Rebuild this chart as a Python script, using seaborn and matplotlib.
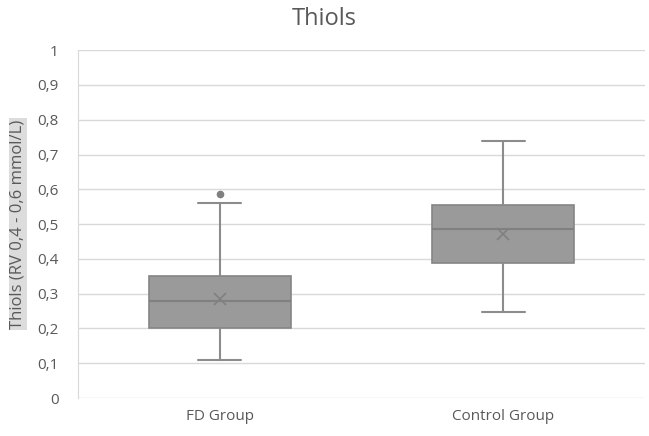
import matplotlib
matplotlib.use("Agg")
import matplotlib.pyplot as plt
import seaborn as sns

# ── Box statistics ────────────────────────────────────────────────────────────
groups   = ["FD Group", "Control Group"]
q1       = [0.201, 0.388]
median   = [0.279, 0.486]
q3       = [0.351, 0.555]
mean     = [0.285, 0.471]
whis_lo  = [0.110, 0.247]
whis_hi  = [0.560, 0.739]
outliers = [[0.586], []]

y_ticks  = [i / 10 for i in range(11)]
y_labels = ["0", "0,1", "0,2", "0,3", "0,4", "0,5", "0,6", "0,7", "0,8", "0,9", "1"]

TEXT = "#595959"
GRID = "#d9d9d9"

sns.set_style("white")
plt.rcParams["font.family"] = ["Open Sans", "DejaVu Sans"]

fig = plt.figure(figsize=(6.49, 4.36), dpi=100)
ax = fig.add_axes([0.120, 0.087, 0.874, 0.798])

stats = [
    {"label": g, "q1": a, "med": m, "q3": b, "mean": mu,
     "whislo": lo, "whishi": hi, "fliers": fl}
    for g, a, m, b, mu, lo, hi, fl in zip(groups, q1, median, q3, mean,
                                          whis_lo, whis_hi, outliers)
]

ax.bxp(
    stats, positions=[0, 1], widths=0.5, capwidths=0.15, patch_artist=True,
    showmeans=True, showfliers=True,
    boxprops=dict(facecolor="#9a9a9a", edgecolor="#858585", linewidth=1.2),
    medianprops=dict(color="#808080", linewidth=1.5),
    whiskerprops=dict(color="#8c8c8c", linewidth=1.5),
    capprops=dict(color="#8c8c8c", linewidth=1.5),
    meanprops=dict(marker="x", markeredgecolor="#808080", markersize=9,
                   markeredgewidth=1.2),
    flierprops=dict(marker="o", markerfacecolor="#808080",
                    markeredgecolor="#808080", markersize=4.5),
)

ax.set_xlim(-0.5, 1.5)
ax.set_ylim(0, 1)
ax.set_yticks(y_ticks)
ax.set_yticklabels(y_labels)
ax.set_xticks([0, 1])
ax.set_xticklabels(groups)
ax.tick_params(axis="both", colors=TEXT, labelsize=11, length=0)
ax.tick_params(axis="y", pad=14)
ax.tick_params(axis="x", pad=8)

ax.yaxis.grid(True, color=GRID, linewidth=1)
ax.set_axisbelow(True)
for side in ["top", "right", "bottom"]:
    ax.spines[side].set_visible(False)
ax.spines["left"].set_color(GRID)

ax.set_ylabel("Thiols (RV 0,4 - 0,6 mmol/L)", color=TEXT, fontsize=12,
              labelpad=8,
              bbox=dict(facecolor="#dcdcdc", edgecolor="none", pad=1))
fig.suptitle("Thiols", color=TEXT, fontsize=17, y=0.985)

fig.savefig("out.png", dpi=100)
